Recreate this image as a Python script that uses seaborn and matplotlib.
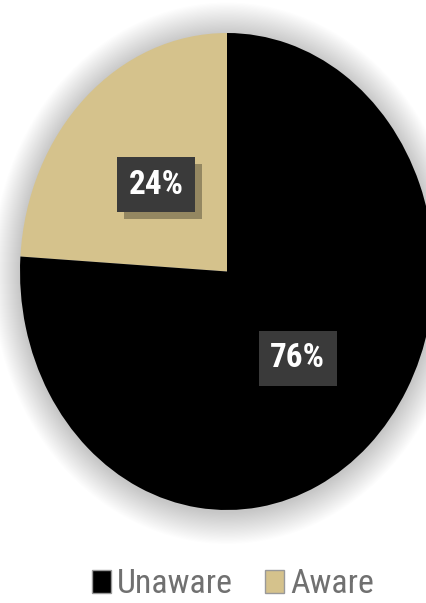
import matplotlib
matplotlib.use("Agg")
import matplotlib.pyplot as plt
import seaborn as sns
from matplotlib.patches import Ellipse, Patch
from matplotlib import font_manager as fm
import matplotlib.patheffects as pe

# ---- data ----
categories = ["Aware", "Unaware"]
values = [24, 76]
slice_colors = ["#D5C28C", "#000000"]
legend_order = ["Unaware", "Aware"]

sns.set_theme(style="white")

# choose a condensed sans-serif if one is installed
entries = {(f.name, f.stretch) for f in fm.fontManager.ttflist}
fam, stretch = "Liberation Sans", "normal"
found = False
for nm in ["Liberation Sans Narrow", "Roboto Condensed", "Open Sans Condensed",
           "DejaVu Sans Condensed", "Noto Sans Condensed"]:
    if any(n == nm for n, s in entries):
        fam, stretch, found = nm, "normal", True
        break
if not found:
    for n, s in sorted(entries):
        if s in ("condensed", "semi-condensed", "extra-condensed") and n in (
                "DejaVu Sans", "Roboto", "Open Sans", "Noto Sans",
                "Liberation Sans", "Lato", "Inter"):
            fam, stretch = n, s
            break
plt.rcParams['font.family'] = [fam, 'Liberation Sans', 'DejaVu Sans']
plt.rcParams['font.stretch'] = stretch

W, H = 427, 603
fig = plt.figure(figsize=(W / 100, H / 100), dpi=100)
fig.patch.set_facecolor("white")
renderer = fig.canvas.get_renderer()


def fit_size(txt, target_px, **kw):
    t = fig.text(0, 0, txt, fontsize=20, **kw)
    w = t.get_window_extent(renderer).width
    t.remove()
    return 20 * target_px / w


label_fs = fit_size("24%", 55, fontweight="bold")
legend_fs = fit_size("Unaware", 115)
label_px = label_fs * 100 / 72
legend_px = legend_fs * 100 / 72

ax = fig.add_axes([0, 0, 1, 1])

sy = 238.5 / 207.0          # vertical stretch of the pie
r = 207
cx, cy = 227, (H - 271.5) / sy

# soft shadow around the pie
for i in range(28, 0, -1):
    ax.add_patch(Ellipse((cx, cy - 1.5), 2 * (r + i), 2 * (r + i),
                         facecolor="black", edgecolor="none",
                         alpha=0.006, zorder=0))

wedges, texts, autotexts = ax.pie(
    values, colors=slice_colors, startangle=90, counterclock=True,
    center=(cx, cy), radius=r,
    autopct=lambda p: f"{p:.0f}%", pctdistance=0.5,
    wedgeprops=dict(linewidth=0),
    textprops=dict(color="white", fontsize=label_fs, fontweight="bold"))

for t in autotexts:
    t.set_bbox(dict(boxstyle=f"square,pad={11.5 / label_px:.3f}",
                    facecolor="#3a3a3a", edgecolor="none"))
    t.get_bbox_patch().set_path_effects(
        [pe.SimplePatchShadow(offset=(5, -5), shadow_rgbFace="black",
                              alpha=0.3), pe.Normal()])

ax.set_aspect("auto")
ax.set_xlim(0, W)
ax.set_ylim(0, H / sy)
ax.axis("off")

cmap = dict(zip(categories, slice_colors))
handles = [Patch(facecolor=cmap[c], edgecolor="#999999", linewidth=1)
           for c in legend_order]
fig.legend(handles, legend_order, loc="center", bbox_to_anchor=(0.546, 0.031),
           ncol=2, frameon=False, fontsize=legend_fs,
           handlelength=19 / legend_px, handleheight=22 / legend_px,
           handletextpad=6 / legend_px, columnspacing=32 / legend_px,
           labelcolor="#707070", borderpad=0.1)

fig.savefig("out.png", dpi=100, facecolor="white")
